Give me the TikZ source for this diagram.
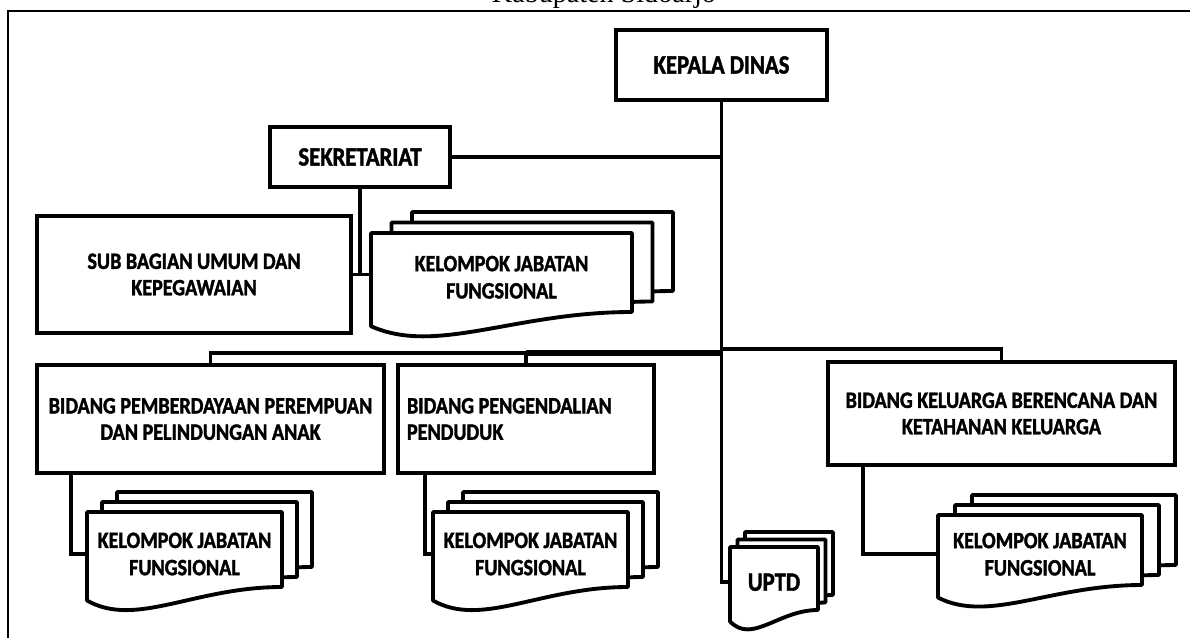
\documentclass[tikz,border=0pt]{standalone}
\usepackage{fontspec}
\setmainfont{Carlito}[BoldFont={Carlito Bold}, BoldFeatures={FakeBold=1.6}, FakeStretch=0.86]
\newfontfamily\titlefont{Liberation Serif}
\usepackage{tikz}
\usetikzlibrary{calc}
\tikzset{
    unitbox/.style={draw, line width=2.6pt, rectangle, fill=white, align=center, inner sep=0pt,
        font=\fontsize{13.3}{15}\selectfont\bfseries},
    headbox/.style={unitbox, font=\fontsize{15}{17}\selectfont\bfseries},
    link/.style={line width=2.2pt},
    sheet/.style={draw, line width=2.2pt, fill=white, line join=round},
    sheettext/.style={align=center, inner sep=0pt, outer sep=0pt,
        font=\fontsize{13.3}{15.5}\selectfont\bfseries},
}
% one document sheet: top-left x, y, width, height of right side
\newcommand{\docsheet}[4]{%
    \draw[sheet] (#1,#2) -- +(#3,0) -- +(#3,#4)
        .. controls +(-0.45*#3,0) and +(0.25*#3,0.37*#4) .. (#1,#2+1.18*#4) -- cycle;
}
% stack of three sheets: name, x, y, width, height, dx, dy, text
\newcommand{\docstack}[8]{%
    \docsheet{#2+2*#6}{#3-2*#7}{#4}{#5}
    \docsheet{#2+#6}{#3-#7}{#4}{#5}
    \docsheet{#2}{#3}{#4}{#5}
    \node[sheettext, minimum width=#4*0.02cm] (#1) at (#2+0.5*#4,#3+0.56*#5) {#8};
}

\begin{document}
\begin{tikzpicture}[x=0.02cm, y=-0.02cm]
    \useasboundingbox (0,0) rectangle (1190,638);
    \draw[line width=1pt] (8,11) rectangle (1205,660);
    \node[anchor=base, font=\titlefont\fontsize{16}{18}\selectfont] (title) at (604,3) {Kabupaten Sidoarjo};

    % boxes
    \node[headbox, minimum width=4.22cm, minimum height=1.4cm] (kepala) at (721.5,65) {KEPALA DINAS};
    \node[headbox, minimum width=3.6cm, minimum height=1.2cm] (sek) at (360,157) {SEKRETARIAT};
    \node[unitbox, minimum width=6.28cm, minimum height=2.34cm] (sub) at (194,274.5) {SUB BAGIAN UMUM DAN\\KEPEGAWAIAN};
    \node[unitbox, minimum width=6.94cm, minimum height=2.16cm] (pp) at (210.5,419) {BIDANG PEMBERDAYAAN PEREMPUAN\\DAN PELINDUNGAN ANAK};
    \node[unitbox, minimum width=5.12cm, minimum height=2.16cm, text width=4.76cm, align=flush left] (peng) at (526,419) {BIDANG PENGENDALIAN\\PENDUDUK};
    \node[unitbox, minimum width=6.94cm, minimum height=2.06cm] (kb) at (1001.5,413.5) {BIDANG KELUARGA BERENCANA DAN\\KETAHANAN KELUARGA};

    % kelompok jabatan fungsional and uptd
    \docstack{kjfsek}{371}{233}{261}{79}{20.5}{10.5}{KELOMPOK JABATAN\\FUNGSIONAL}
    \docstack{kjfpp}{87}{512}{195}{75}{15}{10}{KELOMPOK JABATAN\\FUNGSIONAL}
    \docstack{kjfpeng}{433}{512}{195}{75}{15}{10}{KELOMPOK JABATAN\\FUNGSIONAL}
    \docstack{uptd}{730}{547}{88}{63}{7.5}{7.5}{\fontsize{15}{17}\selectfont UPTD}
    \docstack{kjfkb}{938}{515}{204}{70}{17}{10}{KELOMPOK JABATAN\\FUNGSIONAL}

    % connectors
    \coordinate (busl) at (526,353);
    \coordinate (busr) at (721.5,349);
    \draw[link] (kepala.south) |- (uptd.west);
    \draw[link] (sek.east) -- (sek.east -| kepala.south);
    \draw[link] (sek.south) -- (sek.south |- sub.east);
    \draw[link] (sub.east) -- (sub.east -| kjfsek.west);
    \draw[link] (pp.north) |- (busl) -- (peng.north);
    \draw[link, line width=3.8pt] (busl) -- (busl -| kepala.south);
    \draw[link] (busr) -| (kb.north);
    \draw[link] ([xshift=0.72cm]pp.south west) |- (kjfpp.west);
    \draw[link] ([xshift=0.58cm]peng.south west) |- (kjfpeng.west);
    \draw[link] ([xshift=0.74cm]kb.south west) |- (kjfkb.west);
\end{tikzpicture}
\end{document}
